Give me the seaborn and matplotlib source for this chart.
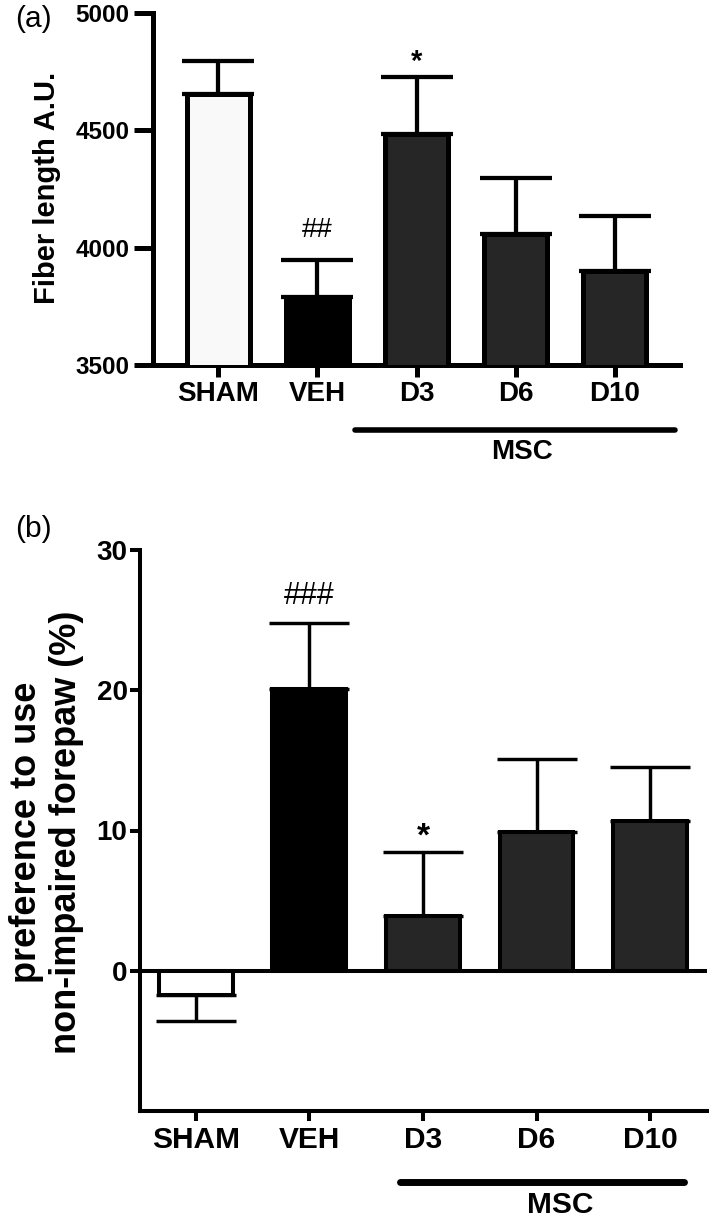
import numpy as np
import pandas as pd
import matplotlib
matplotlib.use("Agg")
import matplotlib.pyplot as plt
import matplotlib.transforms as mtransforms
import seaborn as sns

# values
groups = ["SHAM", "VEH", "D3", "D6", "D10"]
fiber_mean = [4655, 3790, 4484, 4058, 3901]
fiber_sem = [140, 158, 243, 239, 234]
paw_mean = [-1.7, 20.1, 3.9, 9.9, 10.7]
paw_sem = [1.9, 4.7, 4.6, 5.2, 3.8]

colors_a = {"SHAM": "#f9f9f9", "VEH": "#000000", "D3": "#262626", "D6": "#262626", "D10": "#262626"}
colors_b = {"SHAM": "#ffffff", "VEH": "#000000", "D3": "#262626", "D6": "#262626", "D10": "#262626"}

sns.set_style("ticks")
plt.rcParams["font.family"] = ["Liberation Sans", "DejaVu Sans"]
plt.rcParams.update({
    "text.color": "black", "axes.labelcolor": "black", "axes.edgecolor": "black",
    "xtick.color": "black", "ytick.color": "black",
})

W, H = 709, 1219
fig = plt.figure(figsize=(W / 100, H / 100), dpi=100)
ax_a = fig.add_axes([153 / W, 1 - 365 / H, 527 / W, 352 / H])
ax_b = fig.add_axes([140 / W, 1 - 1111 / H, 567 / W, 561 / H])


def draw_panel(ax, mean, sem, colors, lw, bar_w, capsize):
    df = pd.DataFrame({"group": groups, "value": mean})
    sns.barplot(data=df, x="group", y="value", hue="group", palette=colors,
                legend=False, width=bar_w, edgecolor="black", linewidth=lw,
                saturation=1, ax=ax, zorder=3)
    m = np.array(mean)
    s = np.array(sem)
    lower = np.where(m < 0, s, 0)
    upper = np.where(m >= 0, s, 0)
    eb = ax.errorbar(np.arange(len(groups)), m, yerr=[lower, upper], fmt="none",
                     ecolor="black", elinewidth=lw * 0.85, capsize=capsize,
                     capthick=lw * 0.85, zorder=2)
    for cap in eb[1]:
        cap.set_solid_capstyle("round")
        cap.set_dash_capstyle("round")
    sns.despine(ax=ax)
    for sp in ["left", "bottom"]:
        ax.spines[sp].set_linewidth(lw)
        ax.spines[sp].set_color("black")
    ax.set_xlabel("")
    ax.set_ylabel("")


# ---- panel (a)
draw_panel(ax_a, fiber_mean, fiber_sem, colors_a, 3.6, 0.64, 26)
ax_a.set_ylim(3500, 5000)
ax_a.set_xlim(-0.66, 4.66)
ax_a.set_yticks([3500, 4000, 4500, 5000])
ax_a.tick_params(axis="y", length=14, width=3.6, pad=3, labelsize=17.5)
ax_a.tick_params(axis="x", length=8.6, width=3.6, pad=3, labelsize=20)
for t in ax_a.get_xticklabels() + ax_a.get_yticklabels():
    t.set_fontweight("bold")

ax_a.text(1, 4075, "##", ha="center", va="center", fontsize=20)
ax_a.text(2, 4757, "*", ha="center", va="baseline", fontsize=21, fontweight="bold")

tr_a = mtransforms.blended_transform_factory(ax_a.transData, ax_a.transAxes)
ax_a.plot([1.38, 4.61], [-0.185, -0.185], transform=tr_a, color="black",
          lw=4, solid_capstyle="round", clip_on=False)
ax_a.text(3.07, -0.247, "MSC", transform=tr_a, ha="center", va="center",
          fontsize=20, fontweight="bold")

fig.text(47 / W, 1 - 188 / H, "Fiber length A.U.", rotation=90, ha="center",
         va="center", fontsize=21, fontweight="bold")
fig.text(15 / W, 1 - 19 / H, "(a)", ha="left", va="center", fontsize=21.5)

# ---- panel (b)
draw_panel(ax_b, paw_mean, paw_sem, colors_b, 2.9, 0.65, 29)
ax_b.set_ylim(-10, 30)
ax_b.set_xlim(-0.49, 4.5)
ax_b.set_yticks([0, 10, 20, 30])
ax_b.axhline(0, color="black", lw=2.9, zorder=2.5)
ax_b.tick_params(axis="y", length=7.5, width=2.9, pad=1.5, labelsize=20)
ax_b.tick_params(axis="x", length=7.5, width=2.9, pad=3.5, labelsize=21.5)
for t in ax_b.get_xticklabels() + ax_b.get_yticklabels():
    t.set_fontweight("bold")

ax_b.text(1, 26.7, "###", ha="center", va="center", fontsize=22)
ax_b.text(2, 8.9, "*", ha="center", va="baseline", fontsize=24, fontweight="bold")

tr_b = mtransforms.blended_transform_factory(ax_b.transData, ax_b.transAxes)
ax_b.plot([1.80, 4.30], [-0.127, -0.127], transform=tr_b, color="black",
          lw=5, solid_capstyle="round", clip_on=False)
ax_b.text(3.21, -0.168, "MSC", transform=tr_b, ha="center", va="center",
          fontsize=21.5, fontweight="bold")

fig.text(46.5 / W, 1 - 832 / H, "preference to use\nnon-impaired forepaw (%)",
         rotation=90, ha="center", va="center", multialignment="center",
         linespacing=1.15, fontsize=26, fontweight="bold")
fig.text(15 / W, 1 - 529 / H, "(b)", ha="left", va="center", fontsize=21.5)

fig.savefig("out.png", dpi=100)
